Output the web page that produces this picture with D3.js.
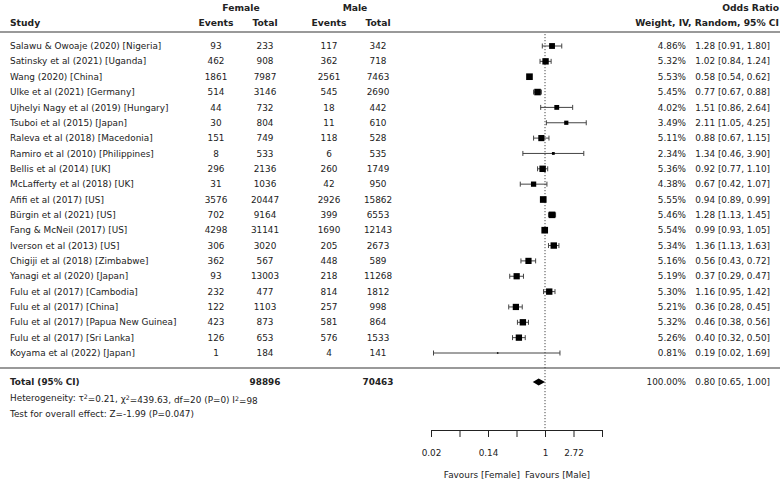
<!DOCTYPE html>
<html><head><meta charset="utf-8">
<script src="https://cdn.jsdelivr.net/npm/d3@7"></script>
<style>
html,body{margin:0;padding:0;background:#fff;}
svg text{font-family:"DejaVu Sans",sans-serif;fill:#222;}
</style></head>
<body><svg id="c" width="780" height="482"></svg>
<script>
const studies = ["Salawu & Owoaje (2020) [Nigeria]","Satinsky et al (2021) [Uganda]","Wang (2020) [China]","Ulke et al (2021) [Germany]","Ujhelyi Nagy et al (2019) [Hungary]","Tsuboi et al (2015) [Japan]","Raleva et al (2018) [Macedonia]","Ramiro et al (2010) [Philippines]","Bellis et al (2014) [UK]","McLafferty et al (2018) [UK]","Afifi et al (2017) [US]","Bürgin et al (2021) [US]","Fang & McNeil (2017) [US]","Iverson et al (2013) [US]","Chigiji et al (2018) [Zimbabwe]","Yanagi et al (2020) [Japan]","Fulu et al (2017) [Cambodia]","Fulu et al (2017) [China]","Fulu et al (2017) [Papua New Guinea]","Fulu et al (2017) [Sri Lanka]","Koyama et al (2022) [Japan]"];
const femaleEvents = [93,462,1861,514,44,30,151,8,296,31,3576,702,4298,306,362,93,232,122,423,126,1];
const femaleTotal = [233,908,7987,3146,732,804,749,533,2136,1036,20447,9164,31141,3020,567,13003,477,1103,873,653,184];
const maleEvents = [117,362,2561,545,18,11,118,6,260,42,2926,399,1690,205,448,218,814,257,581,576,4];
const maleTotal = [342,718,7463,2690,442,610,528,535,1749,950,15862,6553,12143,2673,589,11268,1812,998,864,1533,141];
const weights = [4.86,5.32,5.53,5.45,4.02,3.49,5.11,2.34,5.36,4.38,5.55,5.46,5.54,5.34,5.16,5.19,5.30,5.21,5.32,5.26,0.81];
const oddsRatio = [1.28,1.02,0.58,0.77,1.51,2.11,0.88,1.34,0.92,0.67,0.94,1.28,0.99,1.36,0.56,0.37,1.16,0.36,0.46,0.40,0.19];
const ciLow = [0.91,0.84,0.54,0.67,0.86,1.05,0.67,0.46,0.77,0.42,0.89,1.13,0.93,1.13,0.43,0.29,0.95,0.28,0.38,0.32,0.02];
const ciHigh = [1.80,1.24,0.62,0.88,2.64,4.25,1.15,3.90,1.10,1.07,0.99,1.45,1.05,1.63,0.72,0.47,1.42,0.45,0.56,0.50,1.69];
const totalFemale = 98896, totalMale = 70463;
const pooled = {or:0.80, lo:0.65, hi:1.00, weight:100.00};
const tickValues = [Math.exp(-4),Math.exp(-3),Math.exp(-2),Math.exp(-1),1,Math.exp(1),Math.exp(2)];
const tickLabels = ["0.02","","0.14","","1","2.72",""];

const svg = d3.select("#c");
const FS = 8.9, HFS = 9.2;
const x = d3.scaleLog().base(Math.E).domain([Math.exp(-4),Math.exp(2)]).range([431,602]);
const y = d3.scalePoint().domain(d3.range(studies.length)).range([46,353]);
const colX = {study:10, fe:216, ft:265, me:329, mt:378, w:686, ci:770};

function txt(xp, yp, s, anchor, bold, fs){
  return svg.append("text").attr("x",xp).attr("y",yp).attr("dy","0.35em")
    .attr("text-anchor",anchor||"start").attr("font-size",fs||FS)
    .attr("font-weight",bold?"bold":"normal").text(s);
}
// headers
txt(241,8,"Female","middle",true,HFS);
txt(355,8,"Male","middle",true,HFS);
txt(779,8,"Odds Ratio","end",true,HFS);
txt(colX.study,23,"Study","start",true,HFS);
txt(colX.fe,23,"Events","middle",true,HFS);
txt(colX.ft,23,"Total","middle",true,HFS);
txt(colX.me,23,"Events","middle",true,HFS);
txt(colX.mt,23,"Total","middle",true,HFS);
txt(779,23,"Weight, IV, Random, 95% CI","end",true,HFS);

svg.append("line").attr("x1",0).attr("x2",780).attr("y1",32).attr("y2",32).attr("stroke","#777").attr("stroke-width",1.4);
svg.append("line").attr("x1",0).attr("x2",780).attr("y1",368).attr("y2",368).attr("stroke","#777").attr("stroke-width",1.4);

// reference line
svg.append("line").attr("x1",x(1)).attr("x2",x(1)).attr("y1",34).attr("y2",430)
  .attr("stroke","#333").attr("stroke-width",0.9).attr("stroke-dasharray","1.2,1.8");

const fmt2 = d3.format(".2f");
studies.forEach((s,i)=>{
  const yy = y(i);
  txt(colX.study,yy,s);
  txt(colX.fe,yy,femaleEvents[i],"middle");
  txt(colX.ft,yy,femaleTotal[i],"middle");
  txt(colX.me,yy,maleEvents[i],"middle");
  txt(colX.mt,yy,maleTotal[i],"middle");
  txt(colX.w,yy,fmt2(weights[i])+"%","end");
  txt(colX.ci,yy,`${fmt2(oddsRatio[i])} [${fmt2(ciLow[i])}, ${fmt2(ciHigh[i])}]`,"end");
  const g = svg.append("g").attr("stroke","#444").attr("stroke-width",1);
  g.append("line").attr("x1",x(ciLow[i])).attr("x2",x(ciHigh[i])).attr("y1",yy).attr("y2",yy);
  [ciLow[i],ciHigh[i]].forEach(v=>g.append("line").attr("x1",x(v)).attr("x2",x(v)).attr("y1",yy-2.5).attr("y2",yy+2.5));
  const sz = Math.max(1.5, weights[i]*1.2);
  svg.append("rect").attr("x",x(oddsRatio[i])-sz/2).attr("y",yy-sz/2).attr("width",sz).attr("height",sz).attr("fill","#000");
});

// total
const ty = 382;
txt(colX.study,ty,"Total (95% CI)","start",true);
txt(colX.ft,ty,totalFemale,"middle",true);
txt(colX.mt,ty,totalMale,"middle",true);
txt(colX.w,ty,fmt2(pooled.weight)+"%","end");
txt(colX.ci,ty,`${fmt2(pooled.or)} [${fmt2(pooled.lo)}, ${fmt2(pooled.hi)}]`,"end");
svg.append("path").attr("d",`M${x(pooled.lo)},${ty} L${x(pooled.or)},${ty-3.5} L${x(pooled.hi)},${ty} L${x(pooled.or)},${ty+3.5} Z`).attr("fill","#000");

// heterogeneity
const h = svg.append("text").attr("x",colX.study).attr("y",398).attr("dy","0.35em").attr("font-size",FS);
h.append("tspan").text("Heterogeneity: τ");
h.append("tspan").attr("dy","-0.4em").attr("font-size",FS*0.7).text("2");
h.append("tspan").attr("dy","0.4em").text("=0.21, χ");
h.append("tspan").attr("dy","-0.4em").attr("font-size",FS*0.7).text("2");
h.append("tspan").attr("dy","0.4em").text("=439.63, df=20 (P=0) I");
h.append("tspan").attr("dy","-0.4em").attr("font-size",FS*0.7).text("2");
h.append("tspan").attr("dy","0.4em").text("=98");
txt(colX.study,414,"Test for overall effect: Z=-1.99 (P=0.047)");

// axis
const axis = d3.axisBottom(x).tickValues(tickValues).tickSize(7).tickSizeOuter(0).tickPadding(13)
  .tickFormat((d,i)=>tickLabels[i]);
const ag = svg.append("g").attr("transform","translate(0,430)").call(axis);
ag.selectAll("path,line").attr("stroke","#222").attr("stroke-width",1);
ag.selectAll("text").attr("font-size",FS).attr("font-family","DejaVu Sans").attr("fill","#222");
txt(520,475,"Favours [Female]","end");
txt(525,475,"Favours [Male]","start");
</script></body></html>
